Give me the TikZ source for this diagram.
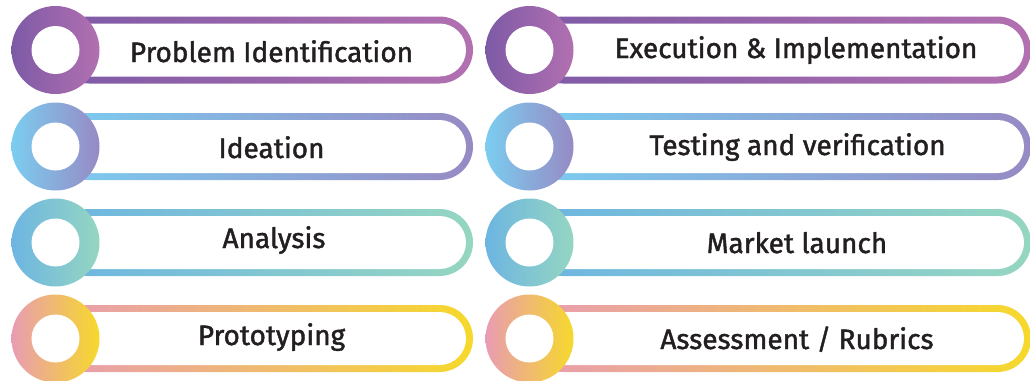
\documentclass[tikz,border=0pt]{standalone}
\usepackage{fontspec}
\setmainfont{Fira Sans}
\newfontfamily\lblfont{Fira Sans}[FakeBold=1.5]
\definecolor{pa}{HTML}{7D5AA6}
\definecolor{pb}{HTML}{B270B0}
\definecolor{ba}{HTML}{7BCDF0}
\definecolor{bb}{HTML}{978AC4}
\definecolor{ta}{HTML}{6DB5E2}
\definecolor{tb}{HTML}{95D6C1}
\definecolor{ya}{HTML}{E99CB2}
\definecolor{yb}{HTML}{F6D92B}
\definecolor{txt}{HTML}{231F20}
\tikzset{
  lbl/.style={anchor=base, text=txt, font=\lblfont\fontsize{28}{30}\selectfont, inner sep=0pt},
}
% #1 name, #2 cx, #3 cy, #4 pill right x, #5 left colour, #6 right colour, #7 text x, #8 baseline y, #9 text
\newcommand\pillrow[9]{%
  \shade[left color=#5, right color=#6, rounded corners=33.5pt]
    (#2,#3-33.5) rectangle (#4,#3+33.5);
  \fill[white, rounded corners=26.5pt]
    (#2,#3-26.5) rectangle (#4-7,#3+26.5);
  \shade[left color=#5, right color=#6] (#2,#3) circle (44);
  \fill[white] (#2,#3) circle (24);
  \node[lbl] (#1) at (#7,#8) {#9};
}
\begin{document}
\begin{tikzpicture}[x=1pt,y=-1pt]
\useasboundingbox (0,0) rectangle (1030,380);
\begin{scope}
\clip (0,0) rectangle (1030,380);
\pillrow{t1}{55.5}{50}{473}{pa}{pb}{271.5}{62}{Problem Identification}
\pillrow{t2}{55.5}{146.5}{473}{ba}{bb}{271.5}{158}{Ideation}
\pillrow{t3}{55.5}{242.5}{473}{ta}{tb}{274}{248}{Analysis}
\pillrow{t4}{55.5}{338.5}{473}{ya}{yb}{271.5}{345}{Prototyping}
\pillrow{t5}{529.5}{50}{1031}{pa}{pb}{796}{58}{Execution \& Implementation}
\pillrow{t6}{529.5}{146.5}{1031}{ba}{bb}{797.5}{155}{Testing and verification}
\pillrow{t7}{529.5}{242.5}{1031}{ta}{tb}{797}{253}{Market launch}
\pillrow{t8}{529.5}{338.5}{1031}{ya}{yb}{797}{349}{Assessment / Rubrics}
\end{scope}
\end{tikzpicture}
\end{document}
